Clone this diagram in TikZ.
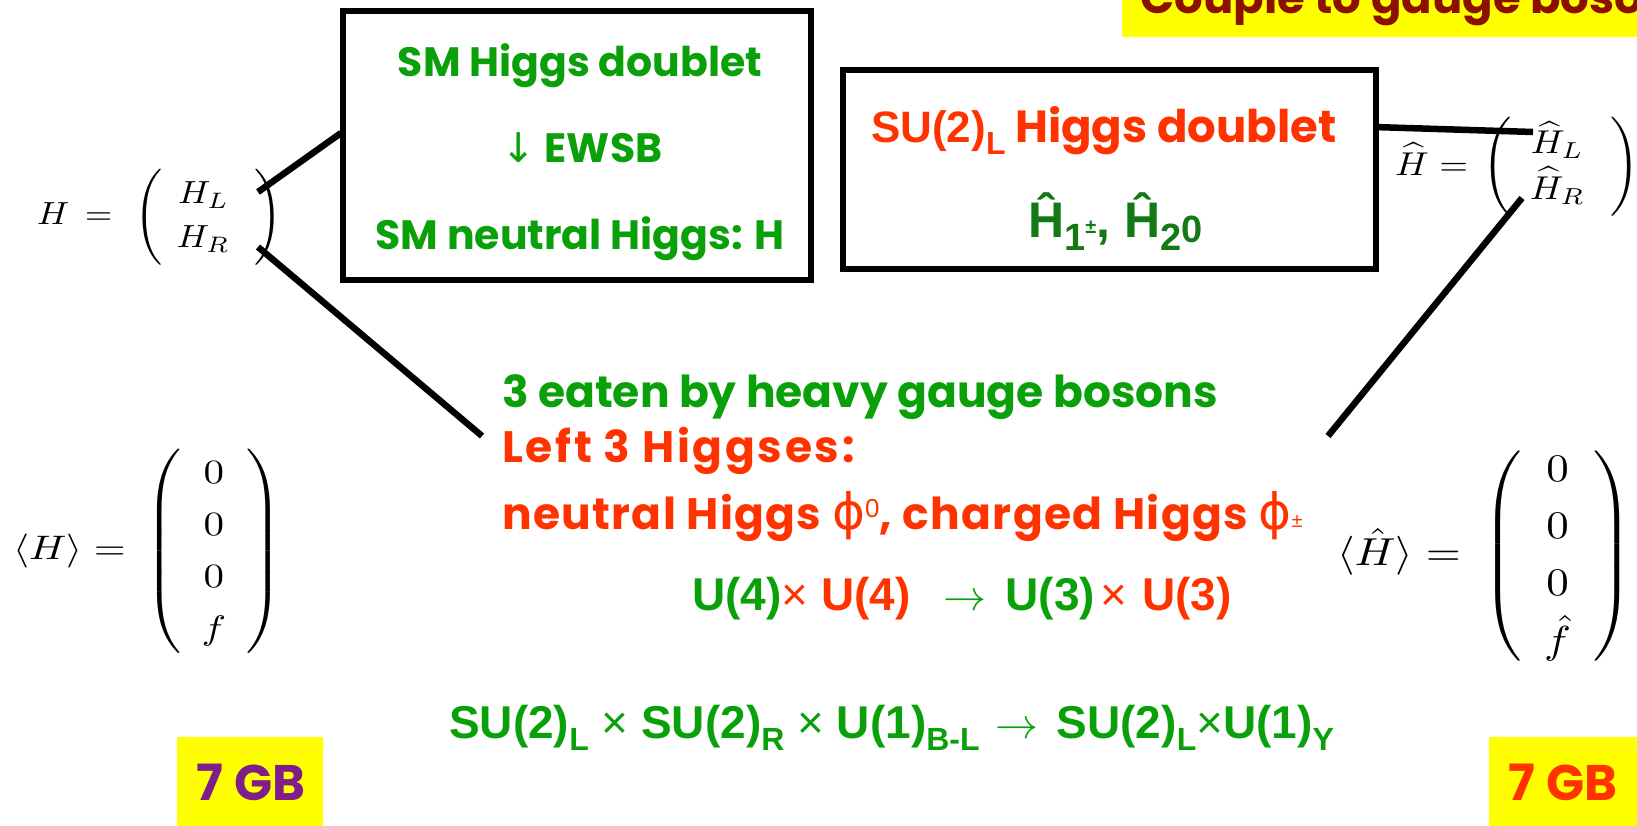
\RequirePackage{fix-cm}
\documentclass[tikz,border=0pt]{standalone}
\usepackage{graphicx}
\usepackage{amsmath}
\usepackage{fontspec}
\newfontfamily\comic{Poppins}
\newfontfamily\arialb{Liberation Sans}
\newfontfamily\dejavu{DejaVu Sans}
\definecolor{hgreen}{RGB}{10,160,10}
\definecolor{hred}{RGB}{255,51,0}
\definecolor{dgreen}{RGB}{20,120,20}
\definecolor{dred}{RGB}{140,16,0}
\definecolor{gbpurple}{RGB}{125,30,140}
\definecolor{yel}{RGB}{255,255,0}
\newcommand\subdn[3]{\raisebox{#1}{\fontsize{#2}{#2}\selectfont #3}}
\newcommand\thinarrow{{\fontsize{10}{12}\selectfont\scalebox{4.3}{$\rightarrow$}}}
\newcommand\thintimes{{\mdseries ×}}
\tikzset{
  boxstyle/.style={draw=black, line width=6pt, inner sep=0pt},
  link/.style={line width=6.5pt},
  comictext/.style={inner sep=0pt, font=\comic\bfseries\fontsize{41}{48}\selectfont},
  centretext/.style={inner sep=0pt, anchor=base west, font=\comic\bfseries\fontsize{44}{52}\selectfont},
  gbtext/.style={inner sep=0pt, anchor=base, font=\comic\bfseries\fontsize{50}{60}\selectfont},
  formula/.style={inner sep=0pt, font=\arialb\bfseries\fontsize{46}{54}\selectfont},
  mathnode/.style={inner sep=0pt, anchor=west, font=\fontsize{10}{12}\selectfont},
}
\begin{document}
\begin{tikzpicture}[x=1pt,y=-1pt]
\useasboundingbox (0,0) rectangle (1637,826);
% top banner
\fill[yel] (1122,0) rectangle (1637,37);
\begin{scope}
\clip (1122,0) rectangle (1637,37);
\node[comictext, text=dred, anchor=base west, font=\comic\bfseries\fontsize{45}{52}\selectfont] (banner) at (1140,14) {Couple to gauge bosons};
\end{scope}
% boxes
\node[boxstyle, minimum width=468pt, minimum height=269pt] (box1) at (577,145.5) {};
\node[boxstyle, minimum width=533pt, minimum height=199pt] (box2) at (1109.5,169.5) {};
% box 1 text
\node[comictext, text=hgreen, anchor=base] (b1a) at (580,77) {SM Higgs doublet};
\node[comictext, text=hgreen, anchor=base] (b1b) at (582,163) {{\dejavu\mdseries\char"2193} EWSB};
\node[comictext, text=hgreen, anchor=base] (b1c) at (580,250) {SM neutral Higgs: H};
% box 2 text
\node[comictext, text=hred, anchor=base west, font=\comic\bfseries\fontsize{45}{52}\selectfont] (b2a) at (871,143)
  {{\arialb\bfseries\fontsize{44}{50}\selectfont SU(2)\subdn{-12pt}{32}{L}} Higgs doublet};
\node[formula, text=dgreen, anchor=base west, font=\arialb\bfseries\fontsize{50}{60}\selectfont] (b2b) at (1028,238)
  {Ĥ\subdn{-13pt}{38}{1}\subdn{4pt}{20}{±}, Ĥ\subdn{-13pt}{38}{2}\subdn{-5pt}{38}{0}};
% matrices
\node[mathnode] (mH) at (37,217)
  {\scalebox{3.55}[3.2]{$H\hspace{1.5pt} =\hspace{3.5pt} \left(\arraycolsep=4pt\renewcommand\arraystretch{1.15}\begin{array}{c} H_L \\ H_R \end{array}\hspace{3pt}\right)$}};
\node[mathnode] (mHh) at (1395,167)
  {\scalebox{3.7}[3.3]{$\widehat{H} =\hspace{1pt} \left(\renewcommand\arraystretch{1.1}\begin{array}{c} \widehat{H}_L \\ \widehat{H}_R \end{array}\hspace{2pt}\right)$}};
\node[mathnode] (vH) at (13,551)
  {\scalebox{4.1}[3.4]{$\langle H\rangle =\hspace{2pt} \left(\renewcommand\arraystretch{1.28}\begin{array}{c} 0 \\ 0 \\ 0 \\ f \end{array}\right)$}};
\node[mathnode] (vHh) at (1337,556)
  {\scalebox{4.5}[3.9]{$\langle \hat{H}\rangle =\hspace{2pt} \left(\renewcommand\arraystretch{1.22}\begin{array}{c} 0 \\ 0 \\ 0 \\ \hat{f} \end{array}\right)$}};
% centre text
\node[centretext, text=hgreen] (c1) at (502,407) {3 eaten by heavy gauge bosons};
\node[centretext, text=hred] (c2) at (502,462) {\addfontfeatures{LetterSpace=6}Left 3 Higgses:};
\node[centretext, text=hred] (c3) at (502,529)
  {\addfontfeatures{LetterSpace=3}neutral Higgs {\dejavu\mdseries\fontsize{50}{52}\selectfont ϕ}\subdn{12pt}{26}{\arialb\mdseries 0}, charged Higgs {\dejavu\mdseries\fontsize{50}{52}\selectfont ϕ}\subdn{2pt}{20}{\arialb\mdseries ±}};
\node[formula, anchor=base west] (c4) at (692,610)
  {\textcolor{hgreen}{U(4)}\textcolor{hred}{\thintimes} \textcolor{hred}{U(4)}\hspace{33pt}\textcolor{hgreen}{\thinarrow}\hspace{19pt}\textcolor{hgreen}{U(3)}\hspace{5pt}\textcolor{hred}{\thintimes}\hspace{15pt}\textcolor{hred}{U(3)}};
\node[formula, text=hgreen, anchor=base west] (c5) at (449,738)
  {SU(2)\subdn{-12pt}{32}{L} \thintimes\ SU(2)\subdn{-12pt}{32}{R} \thintimes\ U(1)\subdn{-12pt}{32}{B-L}\hspace{16pt}\thinarrow\hspace{18pt}SU(2)\subdn{-12pt}{32}{L}\thintimes U(1)\subdn{-12pt}{32}{Y}};
% 7 GB boxes
\fill[yel] (177,737) rectangle (323,826);
\node[gbtext, text=gbpurple] (gbL) at (251,800) {7 GB};
\fill[yel] (1489,737) rectangle (1637,826);
\node[gbtext, text=hred] (gbR) at (1563,800) {7 GB};
% connectors
\coordinate (mL1) at (258,192);
\coordinate (b1w) at (341,133);
\coordinate (mL2) at (258,247);
\coordinate (ctL) at (482,436);
\coordinate (b2e) at (1374,127);
\coordinate (mR1) at (1533,132);
\coordinate (mR2) at (1522,198);
\coordinate (ctR) at (1328,436);
\draw[link] (mL1) -- (b1w);
\draw[link] (mL2) -- (ctL);
\draw[link] (b2e) -- (mR1);
\draw[link] (mR2) -- (ctR);
\end{tikzpicture}
\end{document}
